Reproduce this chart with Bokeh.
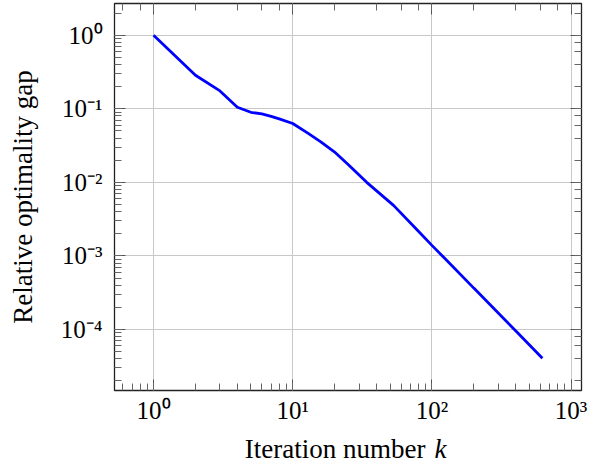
import math
from bokeh.plotting import figure
from bokeh.models import (Range1d, LogAxis, LogTicker, CustomJSTickFormatter, Label)
from bokeh.embed import file_html
from bokeh.resources import INLINE

# ---- data ----
iterations = [1, 2, 3, 4, 5, 6, 7, 8, 10, 13, 16, 20, 25, 34, 53, 80, 100, 122, 200, 411, 622]
gap = [1.0, 0.286, 0.175, 0.105, 0.0896, 0.085, 0.079, 0.073, 0.063, 0.046, 0.0353,
       0.0258, 0.0175, 0.0100, 0.00486, 0.00216, 0.00139, 0.00095, 0.000365, 9.1e-5, 4.07e-5]
x_limits = (0.524, 1188)
y_limits = (1.48e-5, 2.7)
x_title = "Iteration number"
x_title_var = "k"
y_title = "Relative optimality gap"

FONT = "Liberation Serif"
FRAME_H = 387

fmt_code = """
const e = Math.round(Math.log10(tick));
const sup = {'-':'\u207b','0':'\u2070','1':'\u00b9','2':'\u00b2','3':'\u00b3',
             '4':'\u2074','5':'\u2075','6':'\u2076','7':'\u2077','8':'\u2078','9':'\u2079'};
return '10' + String(e).split('').map(c => sup[c]).join('');
"""

p = figure(x_axis_type="log", y_axis_type="log",
           x_range=Range1d(*x_limits), y_range=Range1d(*y_limits),
           frame_width=467, frame_height=FRAME_H,
           min_border_left=114, min_border_right=17, min_border_top=3, min_border_bottom=75,
           output_backend="svg", toolbar_location=None)

p.outline_line_color = "#222222"
p.outline_line_width = 1.3
p.background_fill_color = "white"
p.border_fill_color = "white"

p.xgrid.grid_line_color = "#c8c8c8"
p.ygrid.grid_line_color = "#c8c8c8"
p.xgrid.grid_line_width = 1
p.ygrid.grid_line_width = 1

def style_axis(ax):
    ax.axis_line_color = None
    ax.major_tick_in = 11
    ax.major_tick_out = 0
    ax.minor_tick_in = 7
    ax.minor_tick_out = 0
    ax.major_tick_line_color = "#555555"
    ax.minor_tick_line_color = "#666666"
    ax.major_label_text_font = FONT
    ax.major_label_text_font_size = "25px"
    ax.major_label_text_color = "black"
    ax.formatter = CustomJSTickFormatter(code=fmt_code)

for ax in p.xaxis + p.yaxis:
    style_axis(ax)

p.xaxis.major_label_standoff = 6
p.yaxis.major_label_standoff = 12
p.yaxis.axis_label = y_title
p.yaxis.axis_label_text_font = FONT
p.yaxis.axis_label_text_font_style = "normal"
p.yaxis.axis_label_text_color = "black"
p.yaxis.axis_label_text_font_size = "27px"
p.yaxis.axis_label_standoff = 20

for side in ("above", "right"):
    ax = LogAxis(ticker=LogTicker())
    style_axis(ax)
    ax.formatter = CustomJSTickFormatter(code="return '';")
    ax.major_label_text_font_size = "0px"
    ax.major_label_standoff = 0
    p.add_layout(ax, side)

p.line(iterations, gap, line_color="#0000ff", line_width=2.8)

# x-axis title: both parts share one baseline below the frame (expressed through the y scale)
decades_per_px = (math.log10(y_limits[1]) - math.log10(y_limits[0])) / FRAME_H
title_y = y_limits[0] * 10 ** (-58 * decades_per_px)

lbl1 = Label(x=311, y=title_y, x_units="screen", y_units="data", text=x_title,
             text_font=FONT, text_font_size="27px", text_align="right",
             text_baseline="alphabetic", text_color="black")
lbl2 = Label(x=320, y=title_y, x_units="screen", y_units="data", text=x_title_var,
             text_font=FONT, text_font_size="27px", text_font_style="italic",
             text_align="left", text_baseline="alphabetic", text_color="black")
p.add_layout(lbl1, "below")
p.add_layout(lbl2, "below")

open("out.html", "w").write(file_html(p, INLINE))
